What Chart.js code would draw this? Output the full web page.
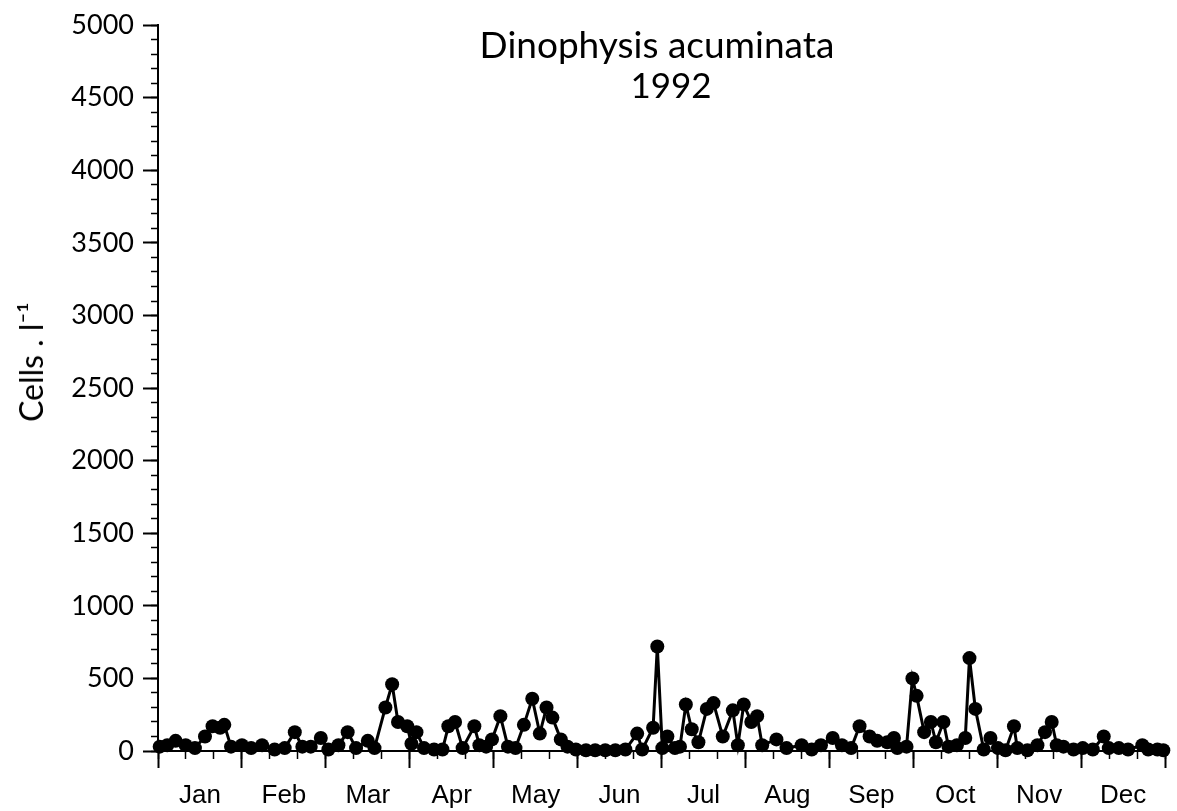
<!DOCTYPE html>
<html>
<head>
<meta charset="utf-8">
<title>Dinophysis acuminata 1992</title>
<script src="https://cdn.jsdelivr.net/npm/chart.js@4.4.1/dist/chart.umd.min.js"></script>
<style>
  body { margin: 0; background: #fff; }
  #wrap { position: relative; width: 1177px; height: 811px; }
  .ttl { position: absolute; text-align: center; font-family: Lato, sans-serif; color: #000; line-height: 1; white-space: nowrap; }
  #t1 { left: 407px; width: 500px; top: 25px; font-size: 37px; }
  #t2 { left: 571px; width: 200px; top: 67px; font-size: 35px; }
  #ytit { left: 31px; top: 362px; font-size: 32px; transform: translate(-50%, -50%) rotate(-90deg); }
</style>
</head>
<body>
<div id="wrap">
  <canvas id="grafico" width="1177" height="811"></canvas>
  <div class="ttl" id="t1">Dinophysis acuminata</div>
  <div class="ttl" id="t2">1992</div>
  <div class="ttl" id="ytit">Cells . l⁻¹</div>
</div>
<script>
// Meses do eixo x (cada mês ocupa a mesma largura)
const MONTHS = ['Jan', 'Feb', 'Mar', 'Apr', 'May', 'Jun', 'Jul', 'Aug', 'Sep', 'Oct', 'Nov', 'Dec'];

// posição da amostra em meses (0 = 1 Jan, 12 = 31 Dec)
const SAMPLE_POS = [
  0.02, 0.11, 0.21, 0.33, 0.44, 0.56, 0.65, 0.74, 0.79, 0.87,
  1.00, 1.11, 1.24, 1.39, 1.51, 1.63, 1.72, 1.82, 1.94,
  2.03, 2.15, 2.26, 2.36, 2.50, 2.58, 2.71, 2.79, 2.86, 2.97,
  3.02, 3.08, 3.17, 3.29, 3.39, 3.46, 3.54, 3.63, 3.77, 3.83, 3.91, 3.98,
  4.08, 4.17, 4.26, 4.36, 4.46, 4.55, 4.63, 4.70, 4.80, 4.88, 4.98,
  5.10, 5.21, 5.33, 5.45, 5.57, 5.71, 5.77, 5.90, 5.95,
  6.01, 6.07, 6.16, 6.22, 6.29, 6.36, 6.44, 6.54, 6.62, 6.73, 6.85, 6.91, 6.98,
  7.07, 7.14, 7.20, 7.37, 7.49, 7.67, 7.79, 7.90,
  8.04, 8.15, 8.26, 8.36, 8.48, 8.57, 8.69, 8.77, 8.81, 8.92, 8.99,
  9.04, 9.13, 9.21, 9.27, 9.36, 9.42, 9.52, 9.62, 9.67, 9.74, 9.84, 9.92,
  10.01, 10.10, 10.20, 10.24, 10.36, 10.48, 10.57, 10.65, 10.71, 10.79, 10.91,
  11.02, 11.14, 11.27, 11.33, 11.45, 11.56, 11.73, 11.80, 11.91, 11.98
];

// células por litro
const CELLS = [
  30, 40, 70, 40, 20, 100, 170, 160, 180, 30,
  40, 20, 40, 10, 20, 130, 30, 30, 90,
  10, 40, 130, 20, 70, 20, 300, 460, 200, 170,
  50, 130, 20, 10, 10, 170, 200, 20, 170, 40, 30, 80,
  240, 30, 20, 180, 360, 120, 300, 230, 80, 30, 10,
  5, 5, 5, 5, 10, 120, 10, 160, 720,
  20, 100, 20, 30, 320, 150, 60, 290, 330, 100, 280, 40, 320,
  200, 240, 40, 80, 20, 40, 10, 40,
  90, 40, 20, 170, 100, 70, 60, 90, 20, 30, 500,
  380, 130, 200, 60, 200, 30, 40, 90, 640, 290, 10, 90,
  20, 5, 170, 20, 5, 40, 130, 200, 40, 30, 10,
  20, 10, 100, 20, 20, 10, 40, 10, 10, 5
];

const pontos = SAMPLE_POS.map((m, i) => ({ x: m, y: CELLS[i] }));

const ctx = document.getElementById('grafico').getContext('2d');
const grafico = new Chart(ctx, {
  type: 'line',
  data: {
    datasets: [{
      label: 'Dinophysis acuminata',
      data: pontos,
      borderColor: '#000',
      borderWidth: 3,
      pointRadius: 7,
      pointBackgroundColor: '#000',
      pointBorderWidth: 0,
      tension: 0,
      clip: false
    }]
  },
  options: {
    responsive: false,
    animation: false,
    layout: { padding: { left: 0, right: 3, top: 25, bottom: 0 } },
    plugins: { legend: { display: false }, tooltip: { enabled: false } },
    scales: {
      x: {
        type: 'linear', position: 'bottom', min: 0, max: 12,
        afterFit: s => { s.height = 60; },
        border: { display: true, color: '#000', width: 2 },
        grid: { drawOnChartArea: false, tickLength: 17, tickColor: '#000', tickWidth: 2 },
        ticks: {
          stepSize: 1, autoSkip: false, maxRotation: 0, padding: 12, labelOffset: 42,
          color: '#000', font: { family: 'Liberation Sans', size: 26 },
          callback: v => MONTHS[v] || ''
        }
      },
      // marcas menores (dezenas de dias)
      x2: {
        type: 'linear', axis: 'x', position: { y: 0 }, min: 0, max: 12,
        border: { display: false },
        grid: { drawOnChartArea: false, tickLength: 8, tickColor: '#000', tickWidth: 1.5 },
        ticks: { display: false, stepSize: 1 / 3 }
      },
      y: {
        type: 'linear', position: 'left', min: 0, max: 5000,
        afterFit: s => { s.width = 158; },
        border: { display: true, color: '#000', width: 2 },
        grid: { drawOnChartArea: false, tickLength: 15, tickColor: '#000', tickWidth: 2 },
        ticks: {
          stepSize: 500, padding: 9, color: '#000', font: { family: 'Lato', size: 27 },
          callback: v => String(v)
        }
      },
      y2: {
        type: 'linear', axis: 'y', position: { x: 0 }, min: 0, max: 5000,
        border: { display: false },
        grid: { drawOnChartArea: false, tickLength: 7, tickColor: '#000', tickWidth: 1.5 },
        ticks: { display: false, stepSize: 100 }
      }
    }
  }
});
</script>
</body>
</html>
